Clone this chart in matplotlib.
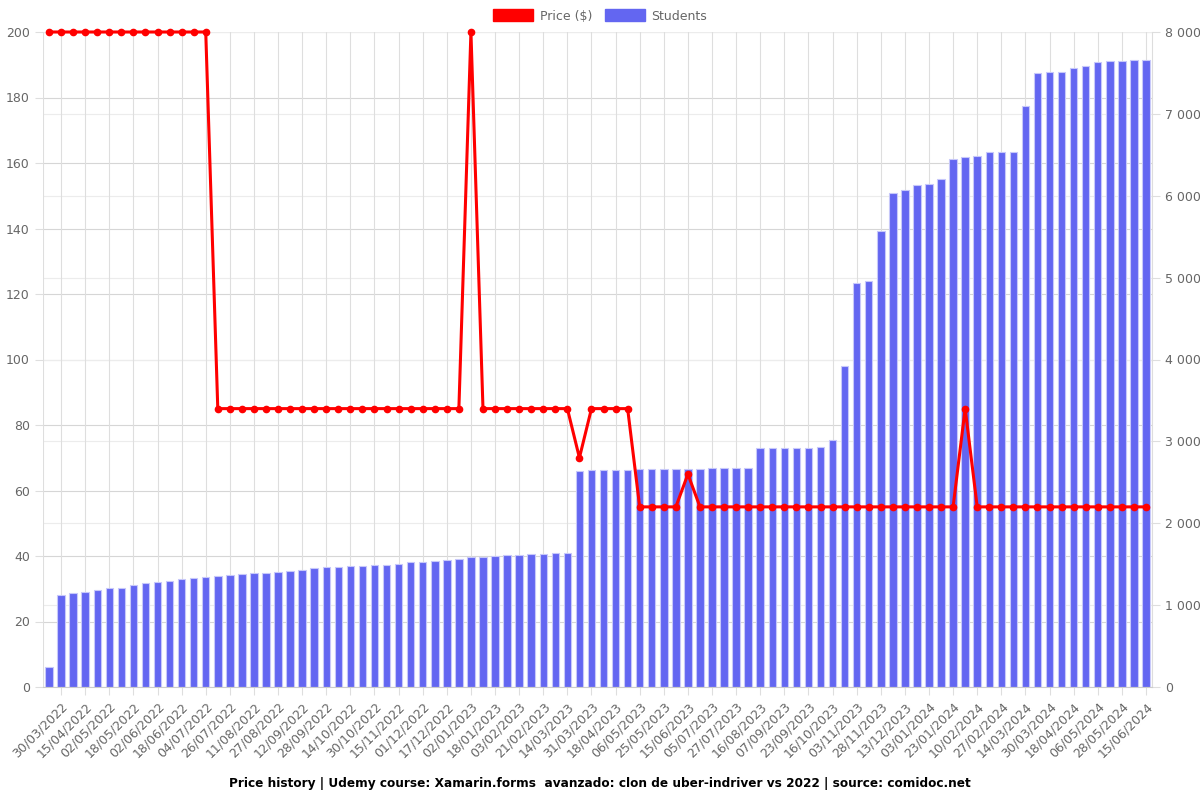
import matplotlib.pyplot as plt
from matplotlib.patches import Patch
from matplotlib.ticker import FuncFormatter
import numpy as np

# tick labels shown on every other bar (odd positions)
tick_dates = [
    "30/03/2022", "15/04/2022", "02/05/2022", "18/05/2022", "02/06/2022", "18/06/2022",
    "04/07/2022", "26/07/2022", "11/08/2022", "27/08/2022", "12/09/2022", "28/09/2022",
    "14/10/2022", "30/10/2022", "15/11/2022", "01/12/2022", "17/12/2022", "02/01/2023",
    "18/01/2023", "03/02/2023", "21/02/2023", "14/03/2023", "31/03/2023", "18/04/2023",
    "06/05/2023", "25/05/2023", "15/06/2023", "05/07/2023", "27/07/2023", "16/08/2023",
    "07/09/2023", "23/09/2023", "16/10/2023", "03/11/2023", "28/11/2023", "13/12/2023",
    "03/01/2024", "23/01/2024", "10/02/2024", "27/02/2024", "14/03/2024", "30/03/2024",
    "18/04/2024", "06/05/2024", "28/05/2024", "15/06/2024",
]

price = [200] * 14 + [85] * 21 + [200] + [85] * 8 + [70] + [85] * 4 + [55] * 4 + [65] \
    + [55] * 22 + [85] + [55] * 15

students = [
    240, 1127, 1144, 1156, 1189, 1205, 1213, 1246, 1266, 1286,
    1299, 1315, 1327, 1344, 1356, 1364, 1376, 1388, 1392, 1408,
    1417, 1433, 1449, 1462, 1469, 1474, 1478, 1490, 1494, 1502,
    1523, 1531, 1543, 1556, 1564, 1588, 1592, 1604, 1608, 1616,
    1621, 1629, 1633, 1637, 2638, 2646, 2646, 2650, 2654, 2658,
    2658, 2658, 2662, 2666, 2666, 2670, 2670, 2670, 2675, 2915,
    2915, 2915, 2919, 2923, 2927, 3017, 3925, 4931, 4955, 5566,
    6030, 6070, 6131, 6140, 6201, 6453, 6470, 6490, 6535, 6535,
    6535, 7100, 7499, 7507, 7507, 7564, 7585, 7629, 7641, 7649,
    7653, 7662,
]

x = np.arange(len(students))
tick_pos = np.arange(1, len(students), 2)

grid_c = '#dedede'
text_c = '#666666'

fig = plt.figure(figsize=(12, 8), dpi=100)
ax = fig.add_axes([43 / 1200, 1 - 687 / 800, (1152 - 43) / 1200, (687 - 32) / 800])
ax2 = ax.twinx()

# grid drawn on the bar axis so it stays behind the bars
for v in np.arange(0, 8001, 800):
    ax2.axhline(v, color='#d6d6d6', lw=0.8, zorder=0)
for v in np.arange(1000, 8001, 1000):
    ax2.axhline(v, color='#ececec', lw=0.8, zorder=0)
for p in tick_pos:
    ax2.axvline(p, color=grid_c, lw=0.8, zorder=0)
ax2.axvline(-0.5, color=grid_c, lw=0.8, zorder=0)

ax2.bar(x, students, width=0.62, color='#6366f1', edgecolor='#c7c8fa', linewidth=0.8, zorder=2)
ax2.set_ylim(0, 8000)
ax2.set_yticks(np.arange(0, 8001, 1000))
ax2.yaxis.set_major_formatter(FuncFormatter(lambda v, _: f"{int(v):,}".replace(",", " ")))

ax.set_zorder(ax2.get_zorder() + 1)
ax.patch.set_visible(False)
ax.plot(x, price, color='#ff0000', lw=2.2, marker='o', markersize=4.5, zorder=5, clip_on=False)
ax.set_ylim(0, 200)
ax.set_yticks(np.arange(0, 201, 20))
ax.set_xlim(-0.5, len(students) - 0.5)
ax.set_xticks(tick_pos)
ax.set_xticklabels(tick_dates, rotation=45, ha='right', rotation_mode='anchor')

for a in (ax, ax2):
    a.tick_params(colors=text_c, labelsize=9, length=6, width=0.8)
    a.tick_params(axis='both', color=grid_c)
    for s in a.spines.values():
        s.set_visible(False)
ax2.tick_params(axis='x', length=0)
ax.spines['bottom'].set_visible(True)
ax.spines['bottom'].set_color('#cccccc')
ax2.spines['right'].set_visible(True)
ax2.spines['right'].set_color('#dddddd')

handles = [Patch(facecolor='#ff0000', edgecolor='#ff0000', label='Price ($)'),
           Patch(facecolor='#6366f1', edgecolor='#6366f1', label='Students')]
fig.legend(handles=handles, loc='center', bbox_to_anchor=(0.5, 1 - 16 / 800), ncol=2,
           frameon=False, fontsize=9, handlelength=3.2, handleheight=1.1,
           columnspacing=1.0, handletextpad=0.5, labelcolor=text_c)

fig.text(0.5, 1 - 783 / 800,
         "Price history | Udemy course: Xamarin.forms  avanzado: clon de uber-indriver vs 2022 | source: comidoc.net",
         ha='center', va='center', fontsize=8.7, fontweight='bold')

fig.savefig('out.png', dpi=100)
